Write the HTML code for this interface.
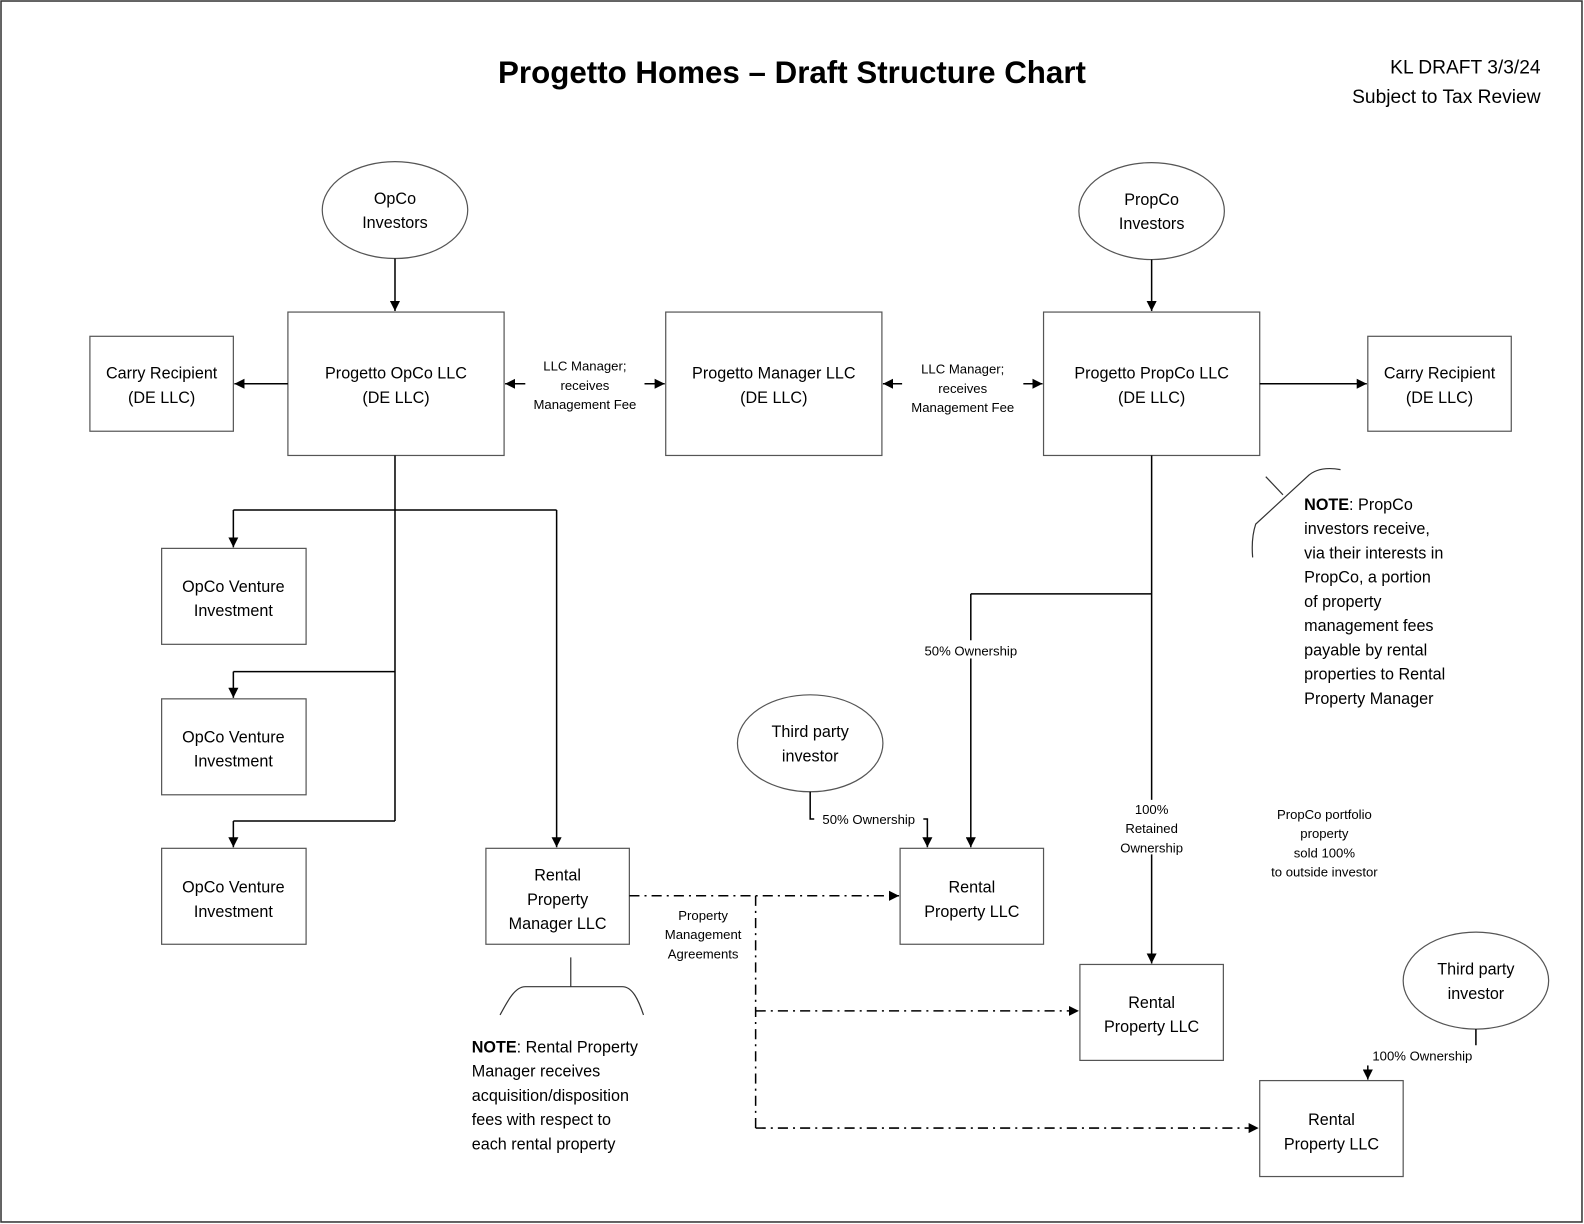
<!DOCTYPE html>
<html><head><meta charset="utf-8"><style>
html,body{margin:0;padding:0;background:#fff;}
svg{display:block;}
text{font-family:"Liberation Sans",sans-serif;fill:#000;}
</style></head><body>
<svg width="1584" height="1224" viewBox="0 0 1568 1212" preserveAspectRatio="none" xmlns="http://www.w3.org/2000/svg">
<defs>
<marker id="a" viewBox="0 0 10 10" refX="10" refY="5" markerWidth="10" markerHeight="10" markerUnits="userSpaceOnUse" orient="auto"><path d="M0,0 L10,5 L0,10 z" fill="#000"/></marker>
</defs>
<rect x="1" y="1" width="1565" height="1209" fill="#fff" stroke="#333" stroke-width="1.5"/>
<text x="784" y="82" font-size="31" font-weight="bold" text-anchor="middle">Progetto Homes – Draft Structure Chart</text>
<text x="1525" y="73" font-size="19" text-anchor="end">KL DRAFT 3/3/24</text>
<text x="1525" y="102" font-size="19" text-anchor="end">Subject to Tax Review</text>

<g fill="none" stroke="#555" stroke-width="1.2">
<ellipse cx="391" cy="208" rx="72" ry="48"/>
<ellipse cx="1140" cy="209" rx="72" ry="48"/>
<ellipse cx="802" cy="736" rx="72" ry="48"/>
<ellipse cx="1461" cy="971" rx="72" ry="48"/>
<rect x="285" y="309" width="214" height="142"/>
<rect x="89" y="333" width="142" height="94"/>
<rect x="659" y="309" width="214" height="142"/>
<rect x="1033" y="309" width="214" height="142"/>
<rect x="1354" y="333" width="142" height="94"/>
<rect x="160" y="543" width="143" height="95"/>
<rect x="160" y="692" width="143" height="95"/>
<rect x="160" y="840" width="143" height="95"/>
<rect x="481" y="840" width="142" height="95"/>
<rect x="891" y="840" width="142" height="95"/>
<rect x="1069" y="955" width="142" height="95"/>
<rect x="1247" y="1070" width="142" height="95"/>
<path d="M1327,465 C1310,462 1300,466 1294,472 L1243,519 C1240,528 1239,540 1240,552" stroke="#333"/>
<path d="M1253,472 L1270,490" stroke="#333"/>
<path d="M565,948 L565,977" stroke="#333"/>
<path d="M495,1005 C503,990 510,977 520,977 L616,977 C626,977 632,990 637,1005" stroke="#333"/>
</g>

<g fill="none" stroke="#000" stroke-width="1.5">
<path d="M391,256 L391,308" marker-end="url(#a)"/>
<path d="M1140,257 L1140,308" marker-end="url(#a)"/>
<path d="M285,380 L232,380" marker-end="url(#a)"/>
<path d="M1247,380 L1353,380" marker-end="url(#a)"/>
<path d="M520,380 L500,380" marker-end="url(#a)"/>
<path d="M638,380 L658,380" marker-end="url(#a)"/>
<path d="M893,380 L874,380" marker-end="url(#a)"/>
<path d="M1013,380 L1032,380" marker-end="url(#a)"/>
<path d="M391,451 L391,813"/>
<path d="M231,505 L551,505"/>
<path d="M231,505 L231,542" marker-end="url(#a)"/>
<path d="M551,505 L551,839" marker-end="url(#a)"/>
<path d="M231,665 L391,665"/>
<path d="M231,665 L231,691" marker-end="url(#a)"/>
<path d="M231,813 L391,813"/>
<path d="M231,813 L231,839" marker-end="url(#a)"/>
<path d="M1140,451 L1140,954" marker-end="url(#a)"/>
<path d="M961,588 L1140,588"/>
<path d="M961,588 L961,839" marker-end="url(#a)"/>
<path d="M802,784 L802,811 L918,811 L918,839" marker-end="url(#a)"/>
<path d="M1461,1019 L1461,1035"/>
<path d="M1354,1055 L1354,1069" marker-end="url(#a)"/>
<g stroke-dasharray="10,5,2,5">
<path d="M623,887 L890,887" marker-end="url(#a)"/>
<path d="M748,887 L748,1117"/>
<path d="M748,1001 L1068,1001" marker-end="url(#a)"/>
<path d="M748,1117 L1246,1117" marker-end="url(#a)"/>
</g>
</g>

<g font-size="13" text-anchor="middle">
<rect x="905" y="634" width="112" height="18" fill="#fff"/>
<text x="961" y="649">50% Ownership</text>
<rect x="1100" y="792" width="80" height="54" fill="#fff"/>
<text x="1140" y="806">100%</text><text x="1140" y="825">Retained</text><text x="1140" y="844">Ownership</text>
<rect x="806" y="802" width="108" height="18" fill="#fff"/>
<text x="860" y="816">50% Ownership</text>
<text x="1408" y="1050">100% Ownership</text>
<rect x="650" y="897" width="92" height="54" fill="#fff"/>
<text x="696" y="911">Property</text><text x="696" y="930">Management</text><text x="696" y="949">Agreements</text>
<text x="579" y="367">LLC Manager;</text><text x="579" y="386">receives</text><text x="579" y="405">Management Fee</text>
<text x="953" y="370">LLC Manager;</text><text x="953" y="389">receives</text><text x="953" y="408">Management Fee</text>
<text x="1311" y="811">PropCo portfolio</text><text x="1311" y="830">property</text><text x="1311" y="849">sold 100%</text><text x="1311" y="868">to outside investor</text>
</g>

<g font-size="16" text-anchor="middle">
<text x="391" y="202">OpCo</text><text x="391" y="226">Investors</text>
<text x="1140" y="203">PropCo</text><text x="1140" y="227">Investors</text>
<text x="802" y="730">Third party</text><text x="802" y="754">investor</text>
<text x="1461" y="965">Third party</text><text x="1461" y="989">investor</text>
<text x="392" y="375">Progetto OpCo LLC</text><text x="392" y="399">(DE LLC)</text>
<text x="160" y="375">Carry Recipient</text><text x="160" y="399">(DE LLC)</text>
<text x="766" y="375">Progetto Manager LLC</text><text x="766" y="399">(DE LLC)</text>
<text x="1140" y="375">Progetto PropCo LLC</text><text x="1140" y="399">(DE LLC)</text>
<text x="1425" y="375">Carry Recipient</text><text x="1425" y="399">(DE LLC)</text>
<text x="231" y="586">OpCo Venture</text><text x="231" y="610">Investment</text>
<text x="231" y="735">OpCo Venture</text><text x="231" y="759">Investment</text>
<text x="231" y="884">OpCo Venture</text><text x="231" y="908">Investment</text>
<text x="552" y="872">Rental</text><text x="552" y="896">Property</text><text x="552" y="920">Manager LLC</text>
<text x="962" y="884">Rental</text><text x="962" y="908">Property LLC</text>
<text x="1140" y="998">Rental</text><text x="1140" y="1022">Property LLC</text>
<text x="1318" y="1114">Rental</text><text x="1318" y="1138">Property LLC</text>
</g>

<g font-size="16">
<text x="1291" y="505"><tspan font-weight="bold">NOTE</tspan>: PropCo</text>
<text x="1291" y="529">investors receive,</text>
<text x="1291" y="553">via their interests in</text>
<text x="1291" y="577">PropCo, a portion</text>
<text x="1291" y="601">of property</text>
<text x="1291" y="625">management fees</text>
<text x="1291" y="649">payable by rental</text>
<text x="1291" y="673">properties to Rental</text>
<text x="1291" y="697">Property Manager</text>
<text x="467" y="1042"><tspan font-weight="bold">NOTE</tspan>: Rental Property</text>
<text x="467" y="1066">Manager receives</text>
<text x="467" y="1090">acquisition/disposition</text>
<text x="467" y="1114">fees with respect to</text>
<text x="467" y="1138">each rental property</text>
</g>
</svg>
</body></html>
